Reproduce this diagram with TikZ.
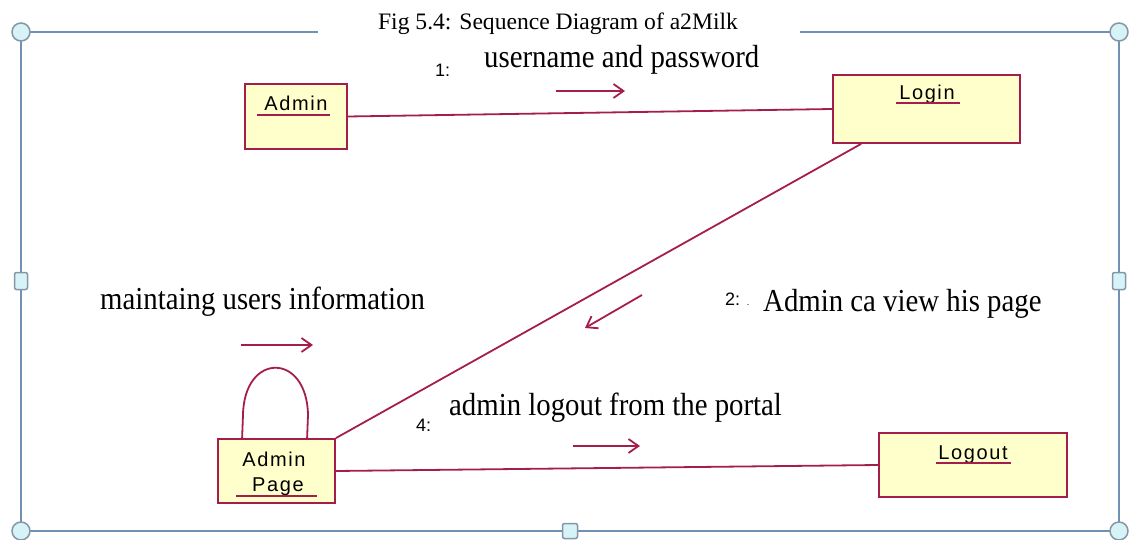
\documentclass[tikz,border=0pt]{standalone}
\usepackage{fontspec}
\setmainfont{Liberation Serif}
\newfontfamily\boxfont{Liberation Sans}[LetterSpace=8]
\newfontfamily\numfont{Liberation Sans}
\usetikzlibrary{arrows.meta,calc}
\definecolor{umlred}{RGB}{165,30,75}
\definecolor{umlfill}{RGB}{255,255,204}
\definecolor{framec}{RGB}{112,144,180}
\definecolor{handlefill}{RGB}{214,243,247}
\definecolor{handledraw}{RGB}{135,150,165}
\newcommand\condtxt[1]{\scalebox{0.9}[1]{#1}}
\begin{document}
\begin{tikzpicture}[x=1pt,y=-1pt,
  objbox/.style={draw=umlred,fill=umlfill,line width=1.8pt,inner sep=0pt,rectangle},
  objtxt/.style={font=\boxfont\fontsize{20}{22}\selectfont,inner sep=0pt,anchor=base},
  uline/.style={draw=umlred,line width=1.8pt},
  conn/.style={draw=umlred,line width=1.8pt},
  msgarrow/.style={draw=umlred,line width=1.8pt,-{Straight Barb[length=10pt,width=14pt,line width=1.8pt]}},
  msgtxt/.style={font=\fontsize{32}{34}\selectfont,inner sep=0pt,anchor=base west},
  numtxt/.style={font=\numfont\fontsize{18}{20}\selectfont,inner sep=0pt,anchor=base west},
  framel/.style={draw=framec,line width=2.4pt},
  hcirc/.style={circle,draw=handledraw,fill=handlefill,line width=1.5pt,minimum size=18pt,inner sep=0pt},
  hsq/.style={rectangle,rounded corners=2pt,draw=handledraw,fill=handlefill,line width=1.5pt,inner sep=0pt}
]
\useasboundingbox (0,0) rectangle (1130,540);

% frame
\coordinate (ftl) at (21,32);
\coordinate (ftr) at (1119,32);
\coordinate (fbl) at (21,531);
\coordinate (fbr) at (1119,531);
\coordinate (ftg1) at (318,32);
\coordinate (ftg2) at (800,32);
\draw[framel] (ftl) -- (ftg1);
\draw[framel] (ftg2) -- (ftr) -- (fbr) -- (fbl) -- (ftl);
\node[hcirc] (h1) at (ftl) {};
\node[hcirc] (h2) at (ftr) {};
\node[hcirc] (h3) at (fbl) {};
\node[hcirc] (h4) at (fbr) {};
\node[hsq,minimum width=13pt,minimum height=17pt] (h5) at (21,281) {};
\node[hsq,minimum width=13pt,minimum height=17pt] (h6) at (1119,281) {};
\node[hsq,minimum width=15pt,minimum height=15pt] (h7) at (570,531) {};

% title
\node[font=\fontsize{23.6}{25}\selectfont,inner sep=0pt,anchor=base] (title) at (558,30) {Fig 5.4: Sequence Diagram of a2Milk};

% objects
\node[objbox,minimum width=102pt,minimum height=65pt] (admin) at (296,116.5) {};
\node[objbox,minimum width=187pt,minimum height=68pt] (login) at (926.5,109) {};
\node[objbox,minimum width=117pt,minimum height=64pt] (apage) at (276.5,471) {};
\node[objbox,minimum width=188pt,minimum height=64pt] (logout) at (973,465) {};

\node[objtxt] (tadmin) at (296,111) {Admin};
\draw[uline] (257,115) -- (330,115);
\node[objtxt] (tlogin) at (927,100) {Login};
\draw[uline] (896,103) -- (960,103);
\node[objtxt] (tap1) at (274,466) {Admin};
\node[objtxt] (tap2) at (278,491) {Page};
\draw[uline] (236,496) -- (317,496);
\node[objtxt] (tlogout) at (973,459) {Logout};
\draw[uline] (936,463) -- (1011,463);

% connectors
\draw[conn] (admin.east) -- (login.west);
\draw[conn] ($(login.south west)+(29,0)$) -- (apage.north east);
\draw[conn] (apage.east) -- (logout.west);
\draw[conn] ($(apage.north west)+(25,0)$) -- (243,415) .. controls (244,352) and (307,352) .. (308,415) -- ($(apage.north west)+(90,0)$);

% message arrows
\coordinate (m1s) at (556,91);  \coordinate (m1e) at (625,91);
\coordinate (m2s) at (642,295); \coordinate (m2e) at (585,328);
\coordinate (m3s) at (241,345); \coordinate (m3e) at (313,345);
\coordinate (m4s) at (573,446); \coordinate (m4e) at (640,446);
\draw[msgarrow] (m1s) -- (m1e);
\draw[msgarrow] (m2s) -- (m2e);
\draw[msgarrow] (m3s) -- (m3e);
\draw[msgarrow] (m4s) -- (m4e);

% labels
\node[numtxt] (n1) at (435,77) {1:};
\node[msgtxt] (l1) at (484,68) {\condtxt{username and password}};
\node[numtxt] (n2) at (725,305) {2: \fontsize{9}{10}\selectfont .};
\node[msgtxt] (l2) at (763,311) {\condtxt{Admin ca view his page}};
\node[msgtxt] (l3) at (100,309) {\condtxt{maintaing users information}};
\node[numtxt] (n4) at (416,431) {4:};
\node[msgtxt] (l4) at (449,415) {\condtxt{admin logout from the portal}};
\end{tikzpicture}
\end{document}
